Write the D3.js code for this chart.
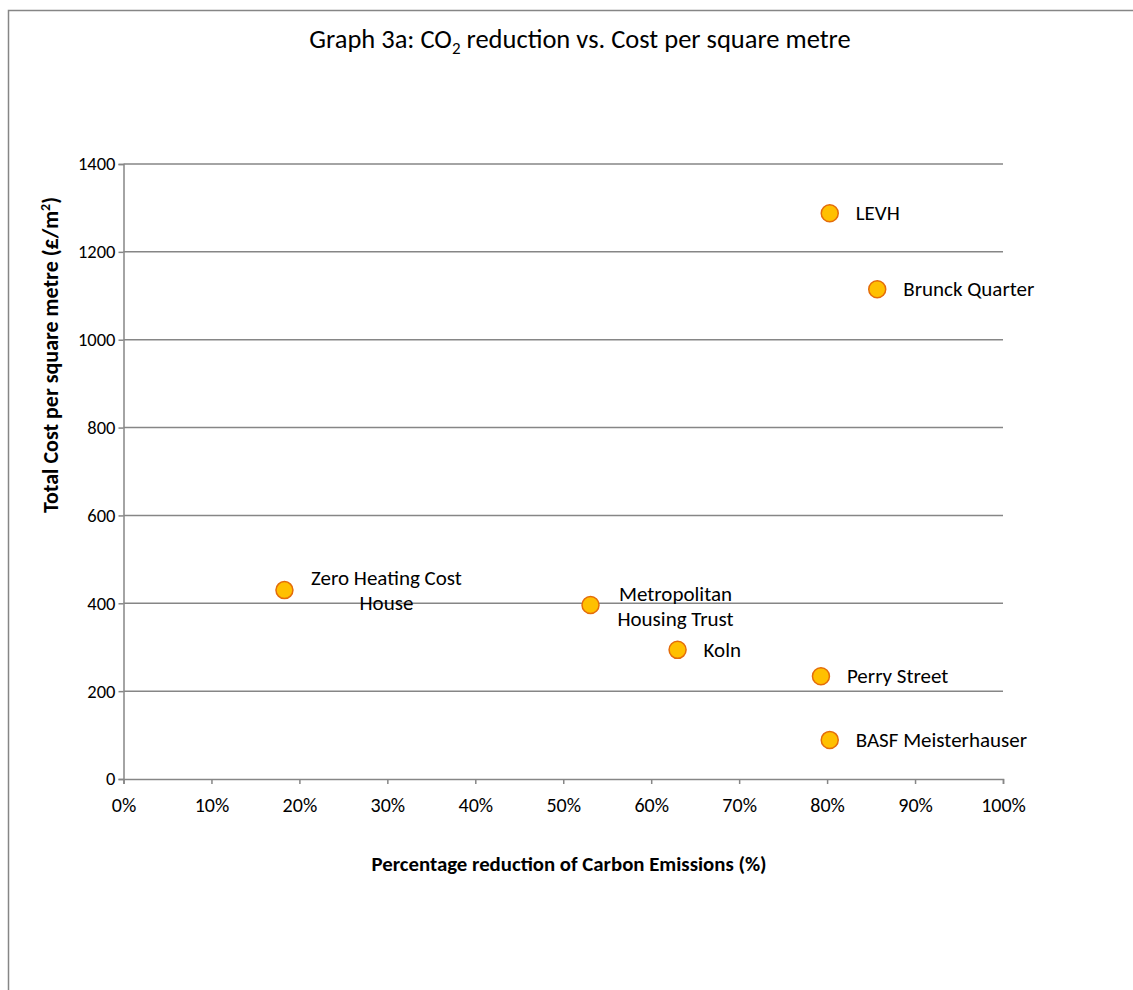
<!DOCTYPE html>
<html>
<head>
<meta charset="utf-8">
<script src="https://cdn.jsdelivr.net/npm/d3@7"></script>
<style>
  html, body { margin: 0; padding: 0; background: #fff; }
  svg { display: block; font-family: Carlito, Lato, "Open Sans", sans-serif; }
</style>
</head>
<body>
<svg id="chart" width="1133" height="990"></svg>
<script>
// Housing projects: CO2 reduction (fraction) against total cost per m² (£)
const projects = ["Zero Heating Cost House", "Metropolitan Housing Trust", "Koln", "Perry Street",
                  "BASF Meisterhauser", "LEVH", "Brunck Quarter"];
const co2Reduction = [0.183, 0.531, 0.630, 0.793, 0.803, 0.803, 0.857];
const costPerM2 = [430, 396, 294, 234, 89, 1288, 1115];
// Label lines (multi-line labels are centred to the right of the point)
const labelLines = [["Zero Heating Cost", "House"], ["Metropolitan", "Housing Trust"], ["Koln"], ["Perry Street"],
                    ["BASF Meisterhauser"], ["LEVH"], ["Brunck Quarter"]];
const xTicks = [0, 0.1, 0.2, 0.3, 0.4, 0.5, 0.6, 0.7, 0.8, 0.9, 1.0];
const yTicks = [0, 200, 400, 600, 800, 1000, 1200, 1400];

const svg = d3.select("#chart");
const grey = "#868686";
const fontStack = "Carlito, Lato, 'Open Sans', sans-serif";

// Outer chart frame (continues past the page edge)
svg.append("rect")
  .attr("x", 8.5).attr("y", 10.5)
  .attr("width", 1300).attr("height", 1200)
  .attr("fill", "none").attr("stroke", grey).attr("stroke-width", 1.5);

const x = d3.scaleLinear().domain([0, 1]).range([123.5, 1003]);
const y = d3.scaleLinear().domain([0, 1400]).range([779, 164]);

// Title with subscript
const title = svg.append("text")
  .attr("x", 580).attr("y", 48)
  .attr("text-anchor", "middle")
  .attr("font-size", 26.5).attr("fill", "#000");
title.append("tspan").text("Graph 3a: CO");
title.append("tspan").attr("font-size", 17).attr("dy", 6).text("2");
title.append("tspan").attr("dy", -6).text(" reduction vs. Cost per square metre");

// Horizontal gridlines
svg.append("g").selectAll("line")
  .data(yTicks.filter(d => d > 0))
  .join("line")
  .attr("x1", x(0)).attr("x2", x(1))
  .attr("y1", d => y(d)).attr("y2", d => y(d))
  .attr("stroke", grey).attr("stroke-width", 1.5);

// Y axis
const yAxis = svg.append("g")
  .attr("transform", `translate(${x(0)},0)`)
  .call(d3.axisLeft(y).tickValues(yTicks).tickSize(5).tickPadding(3).tickFormat(d3.format("d")));
yAxis.select(".domain").attr("stroke", grey).attr("stroke-width", 1.5);
yAxis.selectAll(".tick line").attr("stroke", grey).attr("stroke-width", 1.5);
yAxis.selectAll(".tick text").attr("font-size", 18.5).attr("fill", "#000")
  .attr("font-family", fontStack);

// X axis
const xAxis = svg.append("g")
  .attr("transform", `translate(0,${y(0)})`)
  .call(d3.axisBottom(x).tickValues(xTicks).tickSize(5).tickPadding(14).tickFormat(d3.format(".0%")));
xAxis.select(".domain").attr("stroke", grey).attr("stroke-width", 1.5);
xAxis.selectAll(".tick line").attr("stroke", grey).attr("stroke-width", 1.5);
xAxis.selectAll(".tick text").attr("font-size", 20).attr("fill", "#000")
  .attr("font-family", fontStack);

// Axis titles
svg.append("text")
  .attr("x", 569).attr("y", 871)
  .attr("text-anchor", "middle")
  .attr("font-size", 20.8).attr("font-weight", "bold").attr("fill", "#000")
  .text("Percentage reduction of Carbon Emissions (%)");

const yTitle = svg.append("text")
  .attr("transform", "translate(58,355) rotate(-90)")
  .attr("text-anchor", "middle")
  .attr("font-size", 22).attr("font-weight", "bold").attr("fill", "#000");
yTitle.append("tspan").text("Total Cost per square metre (£/m");
yTitle.append("tspan").attr("font-size", 14).attr("dy", -8).text("2");
yTitle.append("tspan").attr("dy", 8).text(")");

// Points
const data = projects.map((name, i) => ({
  name, x: co2Reduction[i], y: costPerM2[i], lines: labelLines[i]
}));

svg.append("g").selectAll("circle")
  .data(data)
  .join("circle")
  .attr("cx", d => x(d.x)).attr("cy", d => y(d.y))
  .attr("r", 8.5)
  .attr("fill", "#FFC000").attr("stroke", "#E46C0A").attr("stroke-width", 1.5);

// Data labels
const labels = svg.append("g").selectAll("text")
  .data(data)
  .join("text")
  .attr("font-size", 21).attr("fill", "#000");

labels.each(function(d) {
  const t = d3.select(this);
  const cx = x(d.x), cy = y(d.y);
  if (d.lines.length === 1) {
    t.attr("x", cx + 26).attr("y", cy + 7).text(d.lines[0]);
  } else {
    // Two-line labels: centred block to the right of the point
    const isZero = d.name.startsWith("Zero");
    const centre = isZero ? cx + 102 : cx + 85;
    const top = isZero ? cy - 5 : cy - 4;
    t.attr("text-anchor", "middle");
    d.lines.forEach((line, k) => {
      t.append("tspan").attr("x", centre).attr("y", top + k * 25).text(line);
    });
  }
});
</script>
</body>
</html>
